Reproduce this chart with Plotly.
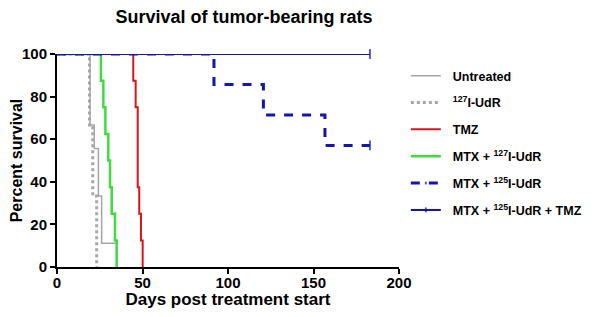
import plotly.graph_objects as go

# Data (days, percent survival)
untreated_t = [0, 19.3, 21.8, 24.2, 26.1, 34.9]
untreated_s = [100, 66.7, 55.6, 33.3, 11.1, 0]

i127_t = [0, 19.0, 20.9, 23.2]
i127_s = [100, 66.7, 33.3, 0]

tmz_t = [0, 44.6, 46.0, 47.2, 48.1, 49.1, 50.1]
tmz_s = [100, 87.5, 75.0, 37.5, 25.0, 12.5, 0]

mtx127_t = [0, 25.7, 27.1, 28.3, 30.0, 31.0, 32.0, 33.9, 34.9]
mtx127_s = [100, 87.5, 75.0, 62.5, 50.0, 37.5, 25.0, 12.5, 0]

mtx125_t = [0, 91.8, 120.7, 156.7, 183]
mtx125_s = [100, 85.7, 71.4, 57.1, 57.1]

mtx125tmz_t = [0, 183]
mtx125tmz_s = [100, 100]

names = ["Untreated", "<sup>127</sup>I-UdR", "TMZ", "MTX + <sup>127</sup>I-UdR",
         "MTX + <sup>125</sup>I-UdR", "MTX + <sup>125</sup>I-UdR + TMZ"]
colors = ["#a6a6a6", "#a6a6a6", "#d9141b", "#3fdc3f", "#1515b0", "#1515b0"]
dashes = ["solid", "dot", "solid", "solid", "dash", "solid"]
widths = [1.5, 3, 2, 2.5, 3, 2]

series = [(untreated_t, untreated_s), (i127_t, i127_s), (tmz_t, tmz_s),
          (mtx127_t, mtx127_s), (mtx125_t, mtx125_s), (mtx125tmz_t, mtx125tmz_s)]

fig = go.Figure()
for i, ((t, s), n, c, d, w) in enumerate(zip(series, names, colors, dashes, widths)):
    censored = i >= 4
    sizes = [0] * (len(t) - 1) + [7]
    fig.add_trace(go.Scatter(
        x=t, y=s, mode="lines+markers" if censored else "lines", name="&nbsp;&nbsp;" + n,
        line=dict(color=c, dash=d, width=w, shape="hv"),
        marker=dict(symbol="line-ns", size=sizes, color=c, line=dict(color=c, width=2)) if censored else None,
        legendgroup=f"g{i}", cliponaxis=False))

font = dict(family="Liberation Sans, Arial, sans-serif", color="black")
tickfont = dict(size=15, family="Liberation Sans, Arial", color="black", weight="bold")
fig.update_layout(
    width=580, height=301,
    margin=dict(l=49, r=189, t=46, b=42, autoexpand=False),
    plot_bgcolor="white", paper_bgcolor="white",
    font=font,
    title=dict(text="<b>Survival of tumor-bearing rats</b>", x=0.407, xanchor="center", xref="container",
               y=0.972, yanchor="middle", font=dict(size=18, **font)),
    xaxis=dict(range=[0, 200], tickvals=[0, 50, 100, 150, 200], showgrid=False, zeroline=False,
               showline=True, linecolor="black", linewidth=2, ticks="outside", ticklen=5,
               tickwidth=2, tickcolor="black", automargin=False, tickfont=tickfont,
               ticklabelstandoff=-4,
               title=dict(text="<b>Days post treatment start</b>", font=dict(size=17, **font), standoff=3)),
    yaxis=dict(range=[0, 100], tickvals=[0, 20, 40, 60, 80, 100], showgrid=False, zeroline=False,
               showline=True, linecolor="black", linewidth=2, ticks="outside", ticklen=5,
               tickwidth=2, tickcolor="black", automargin=False, tickfont=tickfont,
               title=dict(text="<b>Percent survival</b>", font=dict(size=16, **font), standoff=6)),
    legend=dict(x=1.02, xanchor="left", y=0.967, yanchor="top", tracegroupgap=7.6,
                font=dict(size=12.5, family="Liberation Sans, Arial", color="black", weight="bold"),
                bgcolor="rgba(0,0,0,0)", itemwidth=30),
)
fig.write_html("out.html")
